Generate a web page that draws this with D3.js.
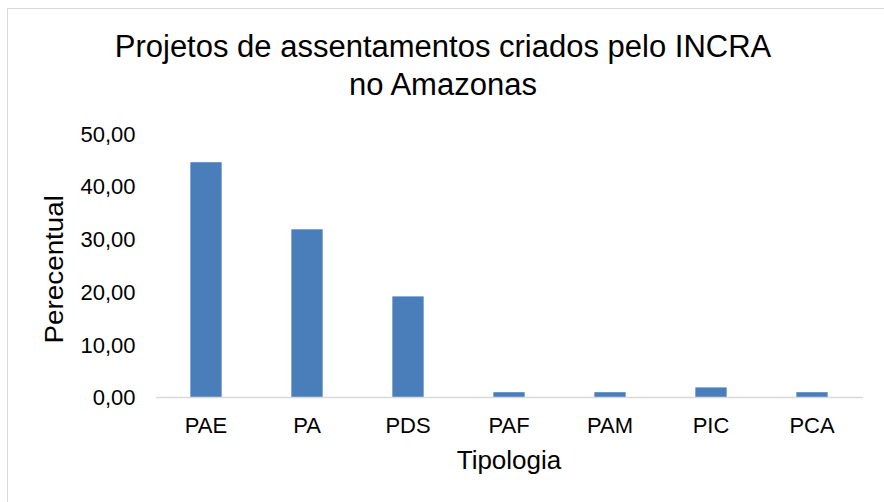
<!DOCTYPE html>
<html>
<head>
<meta charset="utf-8">
<script src="https://cdn.jsdelivr.net/npm/d3@7"></script>
<style>
  body { margin: 0; background: #fff; }
  text { font-family: "Liberation Sans", Arial, sans-serif; fill: #000; }
</style>
</head>
<body>
<svg id="chart" width="884" height="502"></svg>
<script>
// data
const categories = ['PAE', 'PA', 'PDS', 'PAF', 'PAM', 'PIC', 'PCA'];
const percentual = [44.55, 31.82, 19.09, 0.91, 0.91, 1.82, 0.91];
const yTicks = [0, 10, 20, 30, 40, 50];
const titleLines = ['Projetos de assentamentos criados pelo INCRA', 'no Amazonas'];

const svg = d3.select('#chart');

// chart frame
svg.append('rect')
  .attr('x', 7.5).attr('y', 8.5)
  .attr('width', 900).attr('height', 520)
  .attr('fill', '#fff')
  .attr('stroke', '#d9d9d9');

// plot area
const plotLeft = 155.5, plotRight = 862.5, plotTop = 133.5, plotBottom = 397;

const x = d3.scaleBand()
  .domain(categories)
  .range([plotLeft, plotRight])
  .paddingInner(0.69)
  .paddingOuter(0.345);

const y = d3.scaleLinear()
  .domain([0, 50])
  .range([plotBottom, plotTop]);

// bars
svg.append('g')
  .selectAll('rect')
  .data(categories)
  .join('rect')
    .attr('x', d => x(d))
    .attr('y', (d, i) => y(percentual[i]))
    .attr('width', x.bandwidth())
    .attr('height', (d, i) => y(0) - y(percentual[i]))
    .attr('fill', '#4a7ebb');

// y axis (labels only)
const fmt = v => d3.format('.2f')(v).replace('.', ',');
const yAxis = svg.append('g')
  .attr('transform', `translate(${plotLeft},0)`)
  .call(d3.axisLeft(y).tickValues(yTicks).tickFormat(fmt).tickSize(0).tickPadding(20));
yAxis.select('.domain').remove();
yAxis.selectAll('text')
  .style('font-size', '22px')
  .attr('dy', '0.35em');

// x axis
const xAxis = svg.append('g')
  .attr('transform', `translate(0,${plotBottom})`)
  .call(d3.axisBottom(x).tickSize(0).tickPadding(20));
xAxis.select('.domain').attr('stroke', '#d9d9d9').attr('stroke-width', 1.5);
xAxis.selectAll('text')
  .style('font-size', '22px')
  .attr('dy', '0.71em');

// title
svg.append('text')
  .attr('x', 443)
  .attr('text-anchor', 'middle')
  .style('font-size', '31px')
  .selectAll('tspan')
  .data(titleLines)
  .join('tspan')
    .attr('x', 443)
    .attr('y', (d, i) => 57 + i * 38)
    .text(d => d);

// axis titles
svg.append('text')
  .attr('x', (plotLeft + plotRight) / 2)
  .attr('y', 469)
  .attr('text-anchor', 'middle')
  .style('font-size', '26px')
  .text('Tipologia');

svg.append('text')
  .attr('transform', `translate(63,${(plotTop + plotBottom) / 2 + 4}) rotate(-90) scale(1.07,1)`)
  .attr('text-anchor', 'middle')
  .style('font-size', '26px')
  .text('Perecentual');
</script>
</body>
</html>
